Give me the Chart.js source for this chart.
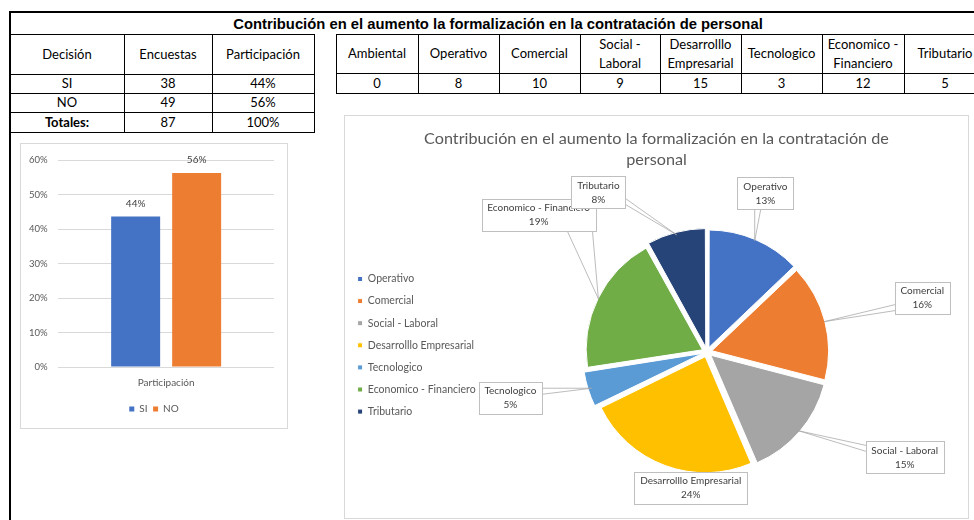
<!DOCTYPE html>
<html>
<head>
<meta charset="utf-8">
<script src="https://cdn.jsdelivr.net/npm/chart.js@4.4.1/dist/chart.umd.min.js"></script>
<style>
html,body{margin:0;padding:0;background:#fff;}
body{position:relative;width:974px;height:520px;overflow:hidden;font-family:Lato,"Open Sans",sans-serif;color:#000;}
.ln{position:absolute;background:#000;}
.cell{position:absolute;display:flex;align-items:center;justify-content:center;text-align:center;font-size:13px;line-height:19px;box-sizing:border-box;padding:0 2px;}
.sheet-title{position:absolute;font-family:"Liberation Sans",Arial,sans-serif;font-weight:bold;font-size:14.8px;text-align:center;white-space:nowrap;display:flex;align-items:center;justify-content:center;}
.box{position:absolute;box-sizing:border-box;border:1px solid #d9d9d9;background:#fff;}
.box canvas{position:absolute;left:0;top:0;}
</style>
</head>
<body>
<div id="sheet"></div>
<div class="box" style="left:20px;top:143px;width:268px;height:286px;"><canvas id="barChart" width="266" height="284" style="width:266px;height:284px;"></canvas></div>
<div class="box" style="left:344px;top:115px;width:625px;height:404px;"><canvas id="pieChart" width="623" height="402" style="width:623px;height:402px;"></canvas></div>
<script>
// ---------------- DATA ----------------
const sheetTitle = 'Contribución en el aumento la formalización en la contratación de personal';
const decisionHeaders = ['Decisión', 'Encuestas', 'Participación'];
const decisionLabels = ['SI', 'NO'];
const encuestas = [38, 49];
const participacion = [0.437, 0.563];
const totalLabel = 'Totales:';
const areaLabels = ['Ambiental', 'Operativo', 'Comercial', 'Social - Laboral', 'Desarrolllo Empresarial', 'Tecnologico', 'Economico - Financiero', 'Tributario'];
const areaCounts = [0, 8, 10, 9, 15, 3, 12, 5];
const pieTitleLines = ['Contribución en el aumento la formalización en la contratación de', 'personal'];
const barCategories = ['Participación'];

// ---------------- STYLE / LAYOUT ----------------
const barColors = ['#4472c4', '#ed7d31'];
const pieColorByArea = {
  'Operativo': '#4472c4', 'Comercial': '#ed7d31', 'Social - Laboral': '#a5a5a5',
  'Desarrolllo Empresarial': '#ffc000', 'Tecnologico': '#5b9bd5',
  'Economico - Financiero': '#70ad47', 'Tributario': '#264478', 'Ambiental': '#9e480e'
};
// callout placement: rotation (deg) from slice bisector and distance (px) from pie centre
const calloutPlacement = [
  {turn: -3.0, dist: 169}, {turn: 0.4, dist: 222}, {turn: -12.6, dist: 224},
  {turn: -13.5, dist: 137}, {turn: 4.2, dist: 202}, {turn: 13.0, dist: 217}, {turn: -19.7, dist: 193}
];
const t1X = [10, 124, 212, 314], t1Y = [34, 74, 93, 112, 132];
const t2X = [336, 418, 499, 580, 660, 741, 822, 904, 986], t2Y = [34, 73, 93];

const pct = v => Math.round(v * 100) + '%';

// ---------------- SPREADSHEET CELLS ----------------
const sheet = document.getElementById('sheet');
function addLine(x, y, w, h) {
  const d = document.createElement('div');
  d.className = 'ln';
  d.style.cssText = `left:${x}px;top:${y}px;width:${w}px;height:${h}px;`;
  sheet.appendChild(d);
}
function addCell(x0, y0, x1, y1, text, bold) {
  const d = document.createElement('div');
  d.className = 'cell';
  d.style.cssText = `left:${x0}px;top:${y0}px;width:${x1 - x0}px;height:${y1 - y0}px;` + (bold ? 'font-weight:bold;' : '');
  d.textContent = text;
  sheet.appendChild(d);
}
function grid(xs, ys, rows) {
  xs.forEach(x => addLine(x, ys[0], 1, ys[ys.length - 1] - ys[0] + 1));
  ys.forEach(y => addLine(xs[0], y, xs[xs.length - 1] - xs[0] + 1, 1));
  rows.forEach((row, r) => row.forEach((c, k) => {
    addCell(xs[k], ys[r], xs[k + 1], ys[r + 1], c.text, c.bold);
  }));
}
// frame + title
addLine(9, 11, 2, 509);
addLine(9, 11, 980, 2);
const tt = document.createElement('div');
tt.className = 'sheet-title';
tt.style.cssText = 'left:10px;top:13px;width:976px;height:21px;';
tt.textContent = sheetTitle;
sheet.appendChild(tt);

const totalEnc = encuestas.reduce((a, b) => a + b, 0);
const totalPart = participacion.reduce((a, b) => a + b, 0);
const t1Rows = [decisionHeaders.map(t => ({text: t}))];
decisionLabels.forEach((lab, i) => t1Rows.push([{text: lab}, {text: String(encuestas[i])}, {text: pct(participacion[i])}]));
t1Rows.push([{text: totalLabel, bold: true}, {text: String(totalEnc)}, {text: pct(totalPart)}]);
grid(t1X, t1Y, t1Rows);
grid(t2X, t2Y, [areaLabels.map(t => ({text: t})), areaCounts.map(v => ({text: String(v)}))]);

// ---------------- BAR CHART ----------------
const barLabelPlugin = {
  id: 'barLabels',
  afterDatasetsDraw(chart) {
    const ctx = chart.ctx;
    ctx.save();
    ctx.font = '10px Lato';
    ctx.fillStyle = '#404040';
    ctx.textAlign = 'center';
    ctx.textBaseline = 'middle';
    chart.data.datasets.forEach((ds, di) => {
      chart.getDatasetMeta(di).data.forEach((bar, i) => {
        ctx.fillText(pct(ds.data[i]), bar.x, bar.y - 13);
      });
    });
    ctx.restore();
  }
};
const axisFont = {family: 'Lato', size: 9.5};
new Chart(document.getElementById('barChart'), {
  type: 'bar',
  data: {
    labels: barCategories,
    datasets: decisionLabels.map((lab, i) => ({
      label: lab, data: [participacion[i]], backgroundColor: barColors[i],
      categoryPercentage: 0.5656, barPercentage: 0.803
    }))
  },
  options: {
    responsive: false, animation: false, devicePixelRatio: 1,
    layout: {padding: {left: 0, right: 0, top: 15, bottom: 4}},
    plugins: {
      legend: {position: 'bottom', fullSize: true, labels: {boxWidth: 5, boxHeight: 5, padding: 5.6, color: '#595959', font: {family: 'Lato', size: 10}}},
      subtitle: {display: true, text: '', position: 'right', fullSize: false, font: {size: 10, lineHeight: 1}, padding: {top: 3, bottom: 0}},
      tooltip: {enabled: false}, title: {display: false}
    },
    scales: {
      x: {grid: {display: false, drawTicks: false}, border: {display: false}, ticks: {padding: 9.7, color: '#595959', font: {family: 'Lato', size: 10}}},
      y: {
        min: 0, max: 0.6,
        ticks: {stepSize: 0.1, callback: v => pct(v), padding: 10.6, color: '#595959', font: axisFont},
        grid: {color: '#d9d9d9', drawTicks: false}, border: {display: false},
        afterFit: s => { s.width = 37.3; }
      }
    }
  },
  plugins: [barLabelPlugin]
});

// ---------------- PIE CHART ----------------
const pieLabels = areaLabels.filter((_, i) => areaCounts[i] > 0);
const pieValues = areaCounts.filter(v => v > 0);
const pieColors = pieLabels.map(l => pieColorByArea[l]);

const calloutPlugin = {
  id: 'callouts',
  afterDatasetsDraw(chart) {
    const ctx = chart.ctx;
    const meta = chart.getDatasetMeta(0);
    const values = chart.data.datasets[0].data;
    const total = values.reduce((a, b) => a + b, 0);
    ctx.save();
    ctx.font = '10px Lato';
    meta.data.forEach((arc, i) => {
      const p = arc.getProps(['x', 'y', 'startAngle', 'endAngle', 'outerRadius'], true);
      const mid = (p.startAngle + p.endAngle) / 2;
      const push = (arc.options.offset || 0) / 4;
      const ax = p.x + Math.cos(mid) * (p.outerRadius + push);
      const ay = p.y + Math.sin(mid) * (p.outerRadius + push);
      const place = calloutPlacement[i];
      const la = mid + place.turn * Math.PI / 180;
      const cx = p.x + Math.cos(la) * place.dist;
      const cy = p.y + Math.sin(la) * place.dist;
      const lines = [chart.data.labels[i], Math.round(values[i] / total * 100) + '%'];
      const w = Math.ceil(Math.max(...lines.map(s => ctx.measureText(s).width)) + 11);
      const h = 32;
      const L = Math.round(cx - w / 2) + 0.5, T = Math.round(cy - h / 2) + 0.5, R = L + w, B = T + h;
      const outX = ax < L ? L - ax : (ax > R ? ax - R : 0);
      const outY = ay < T ? T - ay : (ay > B ? ay - B : 0);
      if (Math.max(outX, outY) > 10) {
        let pts;
        if (outX >= outY) {
          const sx = ax < L ? L : R;
          const sy = Math.min(Math.max(ay, T + 4), B - 4);
          pts = [[sx, sy], [sx, sy + (sy > (T + B) / 2 ? -6 : 6)]];
        } else {
          const sy = ay < T ? T : B;
          const sx = Math.min(Math.max(ax, L + 4), R - 4);
          const sx2 = (sx > (L + R) / 2) ? Math.max(sx - 25, L + 4) : sx + 6;
          pts = [[sx, sy], [sx2, sy]];
        }
        ctx.strokeStyle = '#a6a6a6';
        ctx.lineWidth = 0.75;
        pts.forEach(([sx, sy]) => { ctx.beginPath(); ctx.moveTo(sx, sy); ctx.lineTo(ax, ay); ctx.stroke(); });
      }
      ctx.fillStyle = '#fff';
      ctx.fillRect(L, T, w, h);
      ctx.strokeStyle = '#bfbfbf';
      ctx.lineWidth = 1;
      ctx.strokeRect(L, T, w, h);
      ctx.fillStyle = '#404040';
      ctx.textAlign = 'center';
      ctx.textBaseline = 'middle';
      ctx.fillText(lines[0], cx, cy - 7);
      ctx.fillText(lines[1], cx, cy + 7);
    });
    ctx.restore();
  }
};

// legend geometry (measured so the pie sits where the reference has it)
const legFontSize = 10.5, legBox = 5, legPad = 11.6;
const mctx = document.createElement('canvas').getContext('2d');
mctx.font = legFontSize + 'px Lato';
const maxLegText = Math.max(...pieLabels.map(l => mctx.measureText(l).width));
const legWidth = legPad + legBox + legFontSize / 2 + maxLegText + 10;
const sidePad = 1;
const pieCx = 362;
const rightSpacer = (623 - sidePad) - (2 * pieCx - (sidePad + legWidth));

new Chart(document.getElementById('pieChart'), {
  type: 'pie',
  data: {
    labels: pieLabels,
    datasets: [{data: pieValues, backgroundColor: pieColors, borderColor: '#ffffff', borderWidth: 1, offset: 20, radius: 116, clip: false}]
  },
  options: {
    responsive: false, animation: false, devicePixelRatio: 1,
    layout: {padding: {left: sidePad, right: sidePad, top: 0, bottom: 30}},
    plugins: {
      title: {display: true, text: pieTitleLines, color: '#595959', font: {family: 'Lato', size: 16.2, weight: 'normal', lineHeight: '21px'}, padding: {top: 12.5, bottom: 45.5}},
      subtitle: {display: true, text: '', position: 'right', fullSize: false, font: {size: 10, lineHeight: 1}, padding: {top: Math.max(rightSpacer - 10, 0), bottom: 0}},
      legend: {
        position: 'left', align: 'start', fullSize: false,
        title: {display: true, text: '', font: {size: 10, lineHeight: 1}, padding: {top: 36.15, bottom: 0}},
        labels: {boxWidth: legBox, boxHeight: legBox, padding: legPad, color: '#595959', font: {family: 'Lato', size: legFontSize}}
      },
      tooltip: {enabled: false}
    }
  },
  plugins: [calloutPlugin]
});
</script>
</body>
</html>
